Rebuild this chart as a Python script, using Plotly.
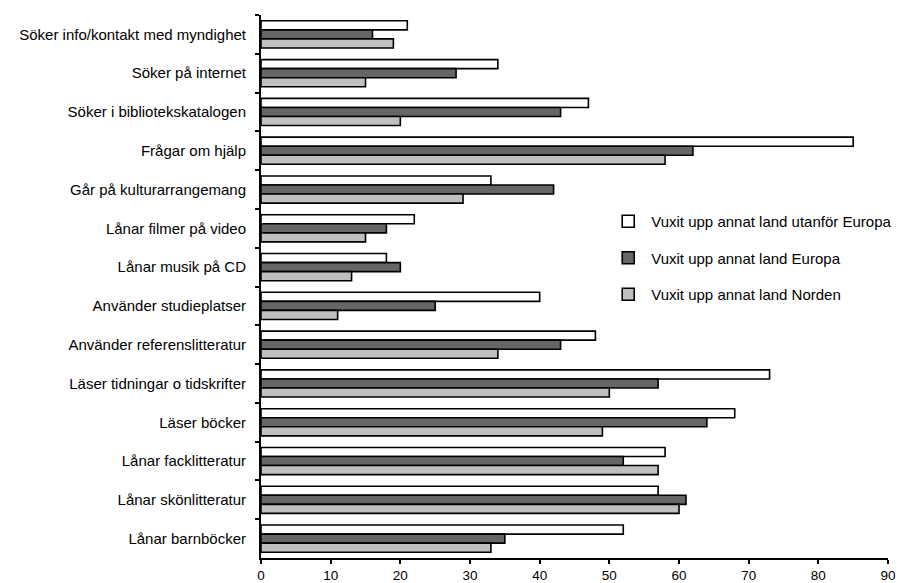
import plotly.graph_objects as go

categories = [
    "Söker info/kontakt med myndighet",
    "Söker på internet",
    "Söker i bibliotekskatalogen",
    "Frågar om hjälp",
    "Går på kulturarrangemang",
    "Lånar filmer på video",
    "Lånar musik på CD",
    "Använder studieplatser",
    "Använder referenslitteratur",
    "Läser tidningar o tidskrifter",
    "Läser böcker",
    "Lånar facklitteratur",
    "Lånar skönlitteratur",
    "Lånar barnböcker",
]

utanfor_europa = [21, 34, 47, 85, 33, 22, 18, 40, 48, 73, 68, 58, 57, 52]
europa = [16, 28, 43, 62, 42, 18, 20, 25, 43, 57, 64, 52, 61, 35]
norden = [19, 15, 20, 58, 29, 15, 13, 11, 34, 50, 49, 57, 60, 33]

series = [
    ("Vuxit upp annat land utanför Europa", utanfor_europa, "#ffffff"),
    ("Vuxit upp annat land Europa", europa, "#666666"),
    ("Vuxit upp annat land Norden", norden, "#c0c0c0"),
]

fig = go.Figure()
for name, values, color in series:
    fig.add_trace(go.Bar(
        x=values,
        y=categories,
        orientation="h",
        name=name,
        legendgroup=name,
        marker=dict(color=color, line=dict(color="#000000", width=1.6)),
    ))

font = dict(family="Arial, Liberation Sans, sans-serif", size=15, color="#000000")

# page body has an 8px margin, so the figure is a bit smaller than the window
fig.update_layout(
    width=900,
    height=575,
    barmode="group",
    bargap=0.3,
    bargroupgap=0,
    plot_bgcolor="#ffffff",
    paper_bgcolor="#ffffff",
    font=font,
    margin=dict(l=253, r=20, t=7, b=25, autoexpand=False),
    legend=dict(
        x=0.549, y=0.65, xanchor="left", yanchor="top",
        font=font,
        tracegroupgap=14,
        itemwidth=36,
        bgcolor="rgba(0,0,0,0)",
    ),
)
fig.update_xaxes(
    range=[0, 90],
    dtick=10,
    showgrid=False,
    zeroline=False,
    showline=True,
    linecolor="#000000",
    linewidth=2,
    ticks="outside",
    ticklen=4,
    tickwidth=1.5,
    tickcolor="#000000",
    tickfont=dict(family="Arial, Liberation Sans, sans-serif", size=13.5, color="#000000"),
)
fig.update_yaxes(
    autorange="reversed",
    showgrid=False,
    showline=True,
    linecolor="#000000",
    linewidth=2,
    ticks="outside",
    tickson="boundaries",
    ticklen=4,
    tickwidth=1.5,
    tickcolor="#000000",
    ticklabelstandoff=10,
    tickfont=font,
)

fig.write_html("out.html")
